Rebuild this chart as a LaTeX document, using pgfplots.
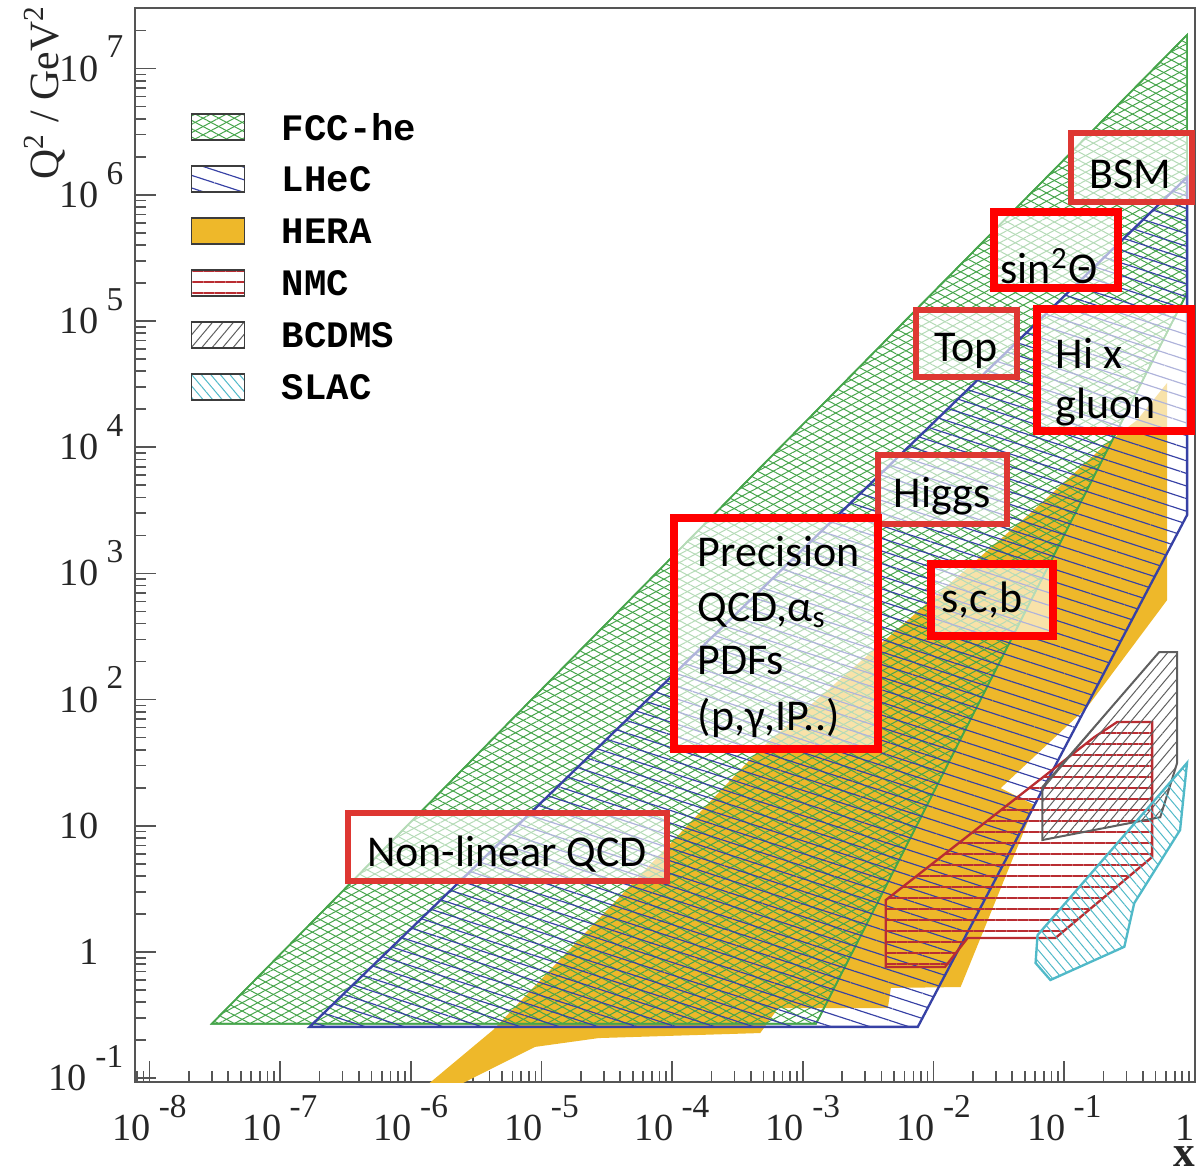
\documentclass[border=0pt]{standalone}
\usepackage{fontspec}
\setmainfont{Liberation Serif}
\newfontfamily\monofont{Liberation Mono}
\newfontfamily\calfont{Carlito}
\usepackage{pgfplots}
\pgfplotsset{compat=1.18}
\usetikzlibrary{patterns.meta}

\definecolor{fccgreen}{RGB}{70,165,75}
\definecolor{lhecblue}{RGB}{55,65,165}
\definecolor{heraorange}{RGB}{238,184,42}
\definecolor{nmcred}{RGB}{185,45,50}
\definecolor{bcdmsgray}{RGB}{95,95,95}
\definecolor{slaccyan}{RGB}{80,185,200}
\definecolor{axisgray}{RGB}{85,85,85}
\definecolor{boxred}{RGB}{255,0,0}
\definecolor{boxdark}{RGB}{222,55,50}
\definecolor{legframe}{RGB}{60,60,60}

\tikzset{
  fcchatch/.style={pattern={Lines[angle=28,distance=2.2pt,line width=0.3pt]}, pattern color=fccgreen,
    postaction={pattern={Lines[angle=-28,distance=2.2pt,line width=0.3pt]}, pattern color=fccgreen}},
  lhechatch/.style={pattern={Lines[angle=-18,distance=3.6pt,line width=0.35pt]}, pattern color=lhecblue},
  nmchatch/.style={pattern={Lines[angle=0,distance=3.3pt,line width=0.4pt]}, pattern color=nmcred},
  bcdmshatch/.style={pattern={Lines[angle=50,distance=2.4pt,line width=0.3pt]}, pattern color=bcdmsgray},
  slachatch/.style={pattern={Lines[angle=-50,distance=2.2pt,line width=0.3pt]}, pattern color=slaccyan},
  tagbox/.style={draw=boxred, line width=2.4pt, fill=white, fill opacity=0.6, inner sep=0pt},
  tagboxdk/.style={draw=boxdark, line width=1.8pt, fill=white, fill opacity=0.6, inner sep=0pt},
  tagtxt/.style={inner sep=0pt, font=\calfont\fontsize{13.2}{15}\selectfont},
}

% tick label pieces (ROOT-like "10 ^n" layout)
\newcommand{\expo}[1]{{\fontsize{10}{12}\selectfont#1}}
\newcommand{\xl}[1]{10\kern2.5pt\raisebox{7pt}{\expo{#1}}}
\newcommand{\yl}[1]{10\kern2.5pt\smash{\raisebox{7pt}{\expo{#1}}}}
\newcommand{\ypad}{\kern2.5pt\hphantom{\expo{0}}}

\begin{document}
\begin{tikzpicture}
\path[use as bounding box] (-40.5pt,-27.3pt) rectangle (318.3pt,324.6pt);
\begin{axis}[
  at={(0pt,0pt)}, anchor=south west,
  scale only axis, width=318pt, height=322.2pt,
  xmode=log, ymode=log,
  xmin=7.76e-9, xmax=1, ymin=0.0933, ymax=3.02e7,
  clip mode=individual,
  axis line style={draw=axisgray, line width=0.8pt},
  tick style={draw=axisgray, line width=0.5pt},
  major tick length=6.3pt, minor tick length=3.3pt,
  tick align=inside, tick pos=left,
  tick label style={font=\fontsize{11.5}{13}\selectfont, text=black!85},
  xticklabel style={inner sep=0pt, yshift=-3.8pt},
  xtick={1e-8,1e-7,1e-6,1e-5,1e-4,1e-3,1e-2,1e-1,1},
  xticklabels={\xl{-8},\xl{-7},\xl{-6},\xl{-5},\xl{-4},\xl{-3},\xl{-2},\xl{-1},\vphantom{\xl{0}}1\kern6pt},
  ytick={1e-1,1,10,1e2,1e3,1e4,1e5,1e6,1e7},
  yticklabels={\raisebox{-3.5pt}{\yl{-1}},1\ypad,10\ypad,\yl{2},\yl{3},\yl{4},\yl{5},\yl{6},\yl{7}},
  minor xtick={8e-9,9e-9,
    2e-8,3e-8,4e-8,5e-8,6e-8,7e-8,8e-8,9e-8,
    2e-7,3e-7,4e-7,5e-7,6e-7,7e-7,8e-7,9e-7,
    2e-6,3e-6,4e-6,5e-6,6e-6,7e-6,8e-6,9e-6,
    2e-5,3e-5,4e-5,5e-5,6e-5,7e-5,8e-5,9e-5,
    2e-4,3e-4,4e-4,5e-4,6e-4,7e-4,8e-4,9e-4,
    2e-3,3e-3,4e-3,5e-3,6e-3,7e-3,8e-3,9e-3,
    2e-2,3e-2,4e-2,5e-2,6e-2,7e-2,8e-2,9e-2,
    0.2,0.3,0.4,0.5,0.6,0.7,0.8,0.9},
  minor ytick={0.2,0.3,0.4,0.5,0.6,0.7,0.8,0.9,
    2,3,4,5,6,7,8,9,
    20,30,40,50,60,70,80,90,
    200,300,400,500,600,700,800,900,
    2000,3000,4000,5000,6000,7000,8000,9000,
    2e4,3e4,4e4,5e4,6e4,7e4,8e4,9e4,
    2e5,3e5,4e5,5e5,6e5,7e5,8e5,9e5,
    2e6,3e6,4e6,5e6,6e6,7e6,8e6,9e6,
    2e7,3e7},
  legend image code/.code={\draw[#1] (0pt,-3.9pt) rectangle (15.9pt,3.9pt);},
  legend cell align=left,
  legend style={draw=none, fill=none, at={(0.0519,0.9143)}, anchor=north west,
    inner sep=0pt, row sep=0pt,
    font=\monofont\bfseries\fontsize{11.2}{13}\selectfont,
    nodes={inner sep=0pt, minimum height=15.6pt, text depth=0pt},
    /tikz/every odd column/.append style={column sep=11pt}},
]

% HERA measured region
\addplot[forget plot, draw=none, fill=heraorange] coordinates {
  (1.20e-6,0.0806) (4.26e-6,0.241) (4.63e-4,39.9) (0.0551,3.01e3)
  (0.213,1.08e4) (0.361,1.64e4) (0.612,3.23e4) (0.612,615)
  (0.150,87.4) (0.0326,19.9) (0.0592,14.6) (0.0161,0.528)
  (4.71e-3,0.519) (4.47e-3,0.360) (6.47e-4,0.360) (4.72e-4,0.228)
  (2.74e-5,0.208) (8.91e-6,0.177) (1.96e-6,0.0806)
} -- cycle;

% FCC-he kinematic range
\addplot[forget plot, draw=fccgreen, line width=0.5pt, fcchatch] coordinates {
  (3.0e-8,0.27) (0.87,1.85e7) (0.87,1.67e5) (1.26e-3,0.27)
} -- cycle;

% LHeC kinematic range
\addplot[forget plot, draw=lhecblue, line width=0.7pt, lhechatch] coordinates {
  (1.68e-7,0.255) (0.87,1.38e6) (0.87,2.90e3) (7.57e-3,0.255)
} -- cycle;

% NMC
\addplot[forget plot, draw=nmcred, line width=0.7pt, nmchatch] coordinates {
  (4.31e-3,2.58) (0.170,50.5) (0.254,66.5) (0.470,66.5) (0.470,5.66)
  (0.0855,1.29) (0.0182,1.29) (0.0122,0.760) (4.31e-3,0.760)
} -- cycle;

% BCDMS
\addplot[forget plot, draw=bcdmsgray, line width=0.6pt, bcdmshatch] coordinates {
  (0.0681,7.72) (0.0681,20.3) (0.532,238) (0.730,238) (0.730,31.5) (0.542,11.7)
} -- cycle;

% SLAC
\addplot[forget plot, draw=slaccyan, line width=0.7pt, slachatch] coordinates {
  (0.0624,1.36) (0.869,31.5) (0.769,9.26) (0.343,2.44) (0.288,1.10)
  (0.0783,0.600) (0.0603,0.818)
} -- cycle;

% legend entries
\addlegendimage{draw=legframe, line width=0.5pt, fcchatch}
\addlegendentry{FCC-he}
\addlegendimage{draw=legframe, line width=0.5pt, lhechatch}
\addlegendentry{LHeC}
\addlegendimage{draw=legframe, line width=0.5pt, fill=heraorange}
\addlegendentry{HERA}
\addlegendimage{draw=legframe, line width=0.5pt, nmchatch}
\addlegendentry{NMC}
\addlegendimage{draw=legframe, line width=0.5pt, bcdmshatch}
\addlegendentry{BCDMS}
\addlegendimage{draw=legframe, line width=0.5pt, slachatch}
\addlegendentry{SLAC}

% physics tags
\node[tagboxdk, minimum width=36.3pt, minimum height=20.7pt] at (rel axis cs:0.9400,0.8515) {};
\node[tagtxt, anchor=base] at (rel axis cs:0.9387,0.8324) {BSM};
\node[tagbox, minimum width=37.2pt, minimum height=22.8pt] at (rel axis cs:0.8689,0.7747) {};
\node[tagtxt, anchor=base] at (rel axis cs:0.8623,0.7439) {sin\textsuperscript{2}Θ};
\node[tagboxdk, minimum width=30.3pt, minimum height=20.1pt] at (rel axis cs:0.7844,0.6876) {};
\node[tagtxt, anchor=base] at (rel axis cs:0.7840,0.6713) {Top};
\node[tagbox, minimum width=46.2pt, minimum height=36.6pt] at (rel axis cs:0.9236,0.6629) {};
\node[tagtxt, anchor=base west] at (rel axis cs:0.8679,0.6639) {Hi x};
\node[tagtxt, anchor=base west] at (rel axis cs:0.8679,0.6182) {gluon};
\node[tagboxdk, minimum width=38.7pt, minimum height=20.7pt] at (rel axis cs:0.7618,0.5517) {};
\node[tagtxt, anchor=base] at (rel axis cs:0.7613,0.5345) {Higgs};
\node[tagbox, minimum width=61.2pt, minimum height=69.3pt] at (rel axis cs:0.6047,0.4176) {};
\node[tagtxt, anchor=base west] at (rel axis cs:0.5302,0.4804) {Precision};
\node[tagtxt, anchor=base west] at (rel axis cs:0.5302,0.4292) {QCD,α\textsubscript{s}};
\node[tagtxt, anchor=base west] at (rel axis cs:0.5302,0.3790) {PDFs};
\node[tagtxt, anchor=base west] at (rel axis cs:0.5302,0.3277) {(p,γ,IP..)};
\node[tagbox, minimum width=36.6pt, minimum height=21.6pt] at (rel axis cs:0.8085,0.4488) {};
\node[tagtxt, anchor=base] at (rel axis cs:0.7991,0.4367) {s,c,b};
\node[tagboxdk, minimum width=95.7pt, minimum height=20.4pt] at (rel axis cs:0.3514,0.2188) {};
\node[tagtxt, anchor=base] at (rel axis cs:0.3509,0.2011) {Non-linear QCD};

% axis titles
\node[rotate=90, anchor=base east, inner sep=0pt, text=black!85, font=\fontsize{12.5}{14}\selectfont]
  at (rel axis cs:-0.0726,1.003) {Q\textsuperscript{2} / GeV\textsuperscript{2}};
\node[anchor=base, inner sep=0pt, text=black!85, font=\bfseries\fontsize{13}{15}\selectfont]
  at (rel axis cs:0.9896,-0.0790) {x};
\end{axis}
\end{tikzpicture}
\end{document}
